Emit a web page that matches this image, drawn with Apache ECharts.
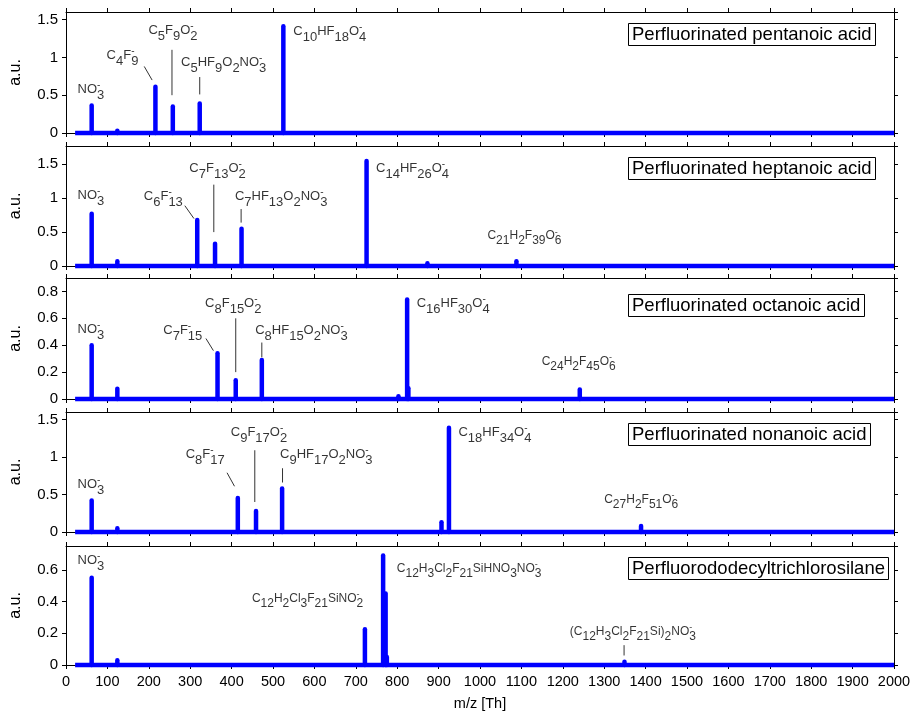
<!DOCTYPE html>
<html><head><meta charset="utf-8">
<script src="https://cdn.jsdelivr.net/npm/echarts@6/dist/echarts.min.js"></script>
<style>html,body{margin:0;padding:0;background:#fff}#c{width:914px;height:713px}</style>
</head><body><div id="c"></div>
<script>
// ---------- data ----------
const panelTitles = ['Perfluorinated pentanoic acid', 'Perfluorinated heptanoic acid',
  'Perfluorinated octanoic acid', 'Perfluorinated nonanoic acid', 'Perfluorododecyltrichlorosilane'];

const xRange = [0, 2000];
const xStep = 100;
const baselineMz = [22, 2000];

const yMaxes = [1.6, 1.77, 0.9, 1.6, 0.75];
const ySteps = [0.5, 0.5, 0.2, 0.5, 0.2];

const pentanoicMz = [62, 124, 216, 258, 323, 525];
const pentanoicAu = [0.365, 0.03, 0.61, 0.35, 0.39, 1.41];
const heptanoicMz = [62, 124, 317, 360, 424, 726, 873, 1088];
const heptanoicAu = [0.77, 0.07, 0.68, 0.33, 0.55, 1.55, 0.04, 0.07];
const octanoicMz = [62, 124, 366, 410, 473, 803, 824, 827, 1241];
const octanoicAu = [0.40, 0.077, 0.34, 0.14, 0.29, 0.02, 0.74, 0.08, 0.07];
const nonanoicMz = [62, 124, 415, 459, 522, 907, 925, 1389];
const nonanoicAu = [0.42, 0.05, 0.455, 0.28, 0.58, 0.13, 1.39, 0.08];
const silaneMz = [62, 124, 722, 766, 772, 775, 1349];
const silaneAu = [0.55, 0.03, 0.225, 0.69, 0.45, 0.05, 0.02];

// annotation texts: {..} = subscript, trailing '-' inside braces = stacked superscript minus
const pentanoicLabels = ['NO{3-}', 'C{4}F{9-}', 'C{5}F{9}O{2-}', 'C{5}HF{9}O{2}NO{3-}', 'C{10}HF{18}O{4-}'];
const heptanoicLabels = ['NO{3-}', 'C{6}F{13-}', 'C{7}F{13}O{2-}', 'C{7}HF{13}O{2}NO{3-}', 'C{14}HF{26}O{4-}', 'C{21}H{2}F{39}O{6-}'];
const octanoicLabels = ['NO{3-}', 'C{7}F{15-}', 'C{8}F{15}O{2-}', 'C{8}HF{15}O{2}NO{3-}', 'C{16}HF{30}O{4-}', 'C{24}H{2}F{45}O{6-}'];
const nonanoicLabels = ['NO{3-}', 'C{8}F{17-}', 'C{9}F{17}O{2-}', 'C{9}HF{17}O{2}NO{3-}', 'C{18}HF{34}O{4-}', 'C{27}H{2}F{51}O{6-}'];
const silaneLabels = ['NO{3-}', 'C{12}H{2}Cl{3}F{21}SiNO{2-}', 'C{12}H{3}Cl{2}F{21}SiHNO{3}NO{3-}', '(C{12}H{3}Cl{2}F{21}Si){2}NO{3-}'];

// ---------- layout (annotation anchors in data units, leader segments) ----------
const labelAnchors = [
  [[28,0.58],[98,1.03],[199,1.36],[278,0.93],[549,1.34]],
  [[28,1.04],[188,1.03],[298,1.44],[408,1.03],[749,1.44],[1018,0.44]],
  [[28,0.52],[235,0.51],[336,0.71],[457,0.51],[847,0.71],[1149,0.28]],
  [[28,0.64],[289,1.04],[398,1.33],[517,1.04],[948,1.33],[1300,0.43]],
  [[28,0.66],[449,0.42],[799,0.61],[1217,0.21]]
];
const labelSmall = [
  [], [5], [5], [5], [1,2,3]
];
const leaders = [
  [[189,0.88,208,0.70],[256,1.10,256,0.50],[323,0.74,323,0.51]],
  [[287,0.89,309,0.70],[357,1.20,357,0.50],[423,0.84,423,0.64]],
  [[338,0.45,356,0.36],[410,0.60,410,0.20],[473,0.42,473,0.31]],
  [[389,0.79,407,0.61],[456,1.09,456,0.40],[523,0.85,523,0.66]],
  [[1348,0.125,1348,0.06]]
];

const panels = [
  {mz: pentanoicMz, au: pentanoicAu, labels: pentanoicLabels},
  {mz: heptanoicMz, au: heptanoicAu, labels: heptanoicLabels},
  {mz: octanoicMz, au: octanoicAu, labels: octanoicLabels},
  {mz: nonanoicMz, au: nonanoicAu, labels: nonanoicLabels},
  {mz: silaneMz, au: silaneAu, labels: silaneLabels}
];

const FONT = '"Liberation Sans", Arial, sans-serif';
const BLUE = '#0000ff';
const tops = [12, 146, 278, 412, 546];
const heights = [121, 120, 121, 120, 119];
const titleTops = [23, 157, 294, 423, 557];

const measureCtx = document.createElement('canvas').getContext('2d');
function textW(t, size) {
  measureCtx.font = size + 'px ' + FONT;
  return measureCtx.measureText(t).width;
}

// parse a label into rich text (main + subscripts) and positions of stacked minus signs
function parseLabel(s, size) {
  let rich = '', x = 0;
  const sups = [];
  const re = /([^{}]+)|\{([^}]*)\}/g;
  let m;
  while ((m = re.exec(s))) {
    if (m[1]) { rich += '{m|' + m[1] + '}'; x += textW(m[1], size); }
    else {
      let t = m[2];
      if (t.endsWith('-')) { sups.push(x); t = t.slice(0, -1); }
      if (t) { rich += '{sub|' + t + '}'; x += textW(t, size); }
    }
  }
  return {rich, sups};
}
function richFor(size, off) {
  return {
    m: {fontSize: size, fontFamily: FONT, color: '#000', verticalAlign: 'top', align: 'left'},
    sub: {fontSize: size, fontFamily: FONT, color: '#000', verticalAlign: 'top', align: 'left', padding: [off, 0, 0, 0]}
  };
}

const axisCommon = {
  axisLine: {show: true, onZero: false, lineStyle: {color: '#000', width: 1}},
  axisTick: {show: true, inside: false, length: 4, lineStyle: {color: '#000', width: 1}},
  splitLine: {show: false}
};

const grid = [], xAxis = [], yAxis = [], series = [], title = [];
panels.forEach((p, i) => {
  grid.push({left: 66, right: 20, top: tops[i], height: heights[i]});
  const last = i === panels.length - 1;
  xAxis.push(Object.assign({}, axisCommon, {
    type: 'value', gridIndex: i, position: 'bottom', min: xRange[0], max: xRange[1], interval: xStep,
    axisLabel: {show: last, fontSize: 14.5, color: '#000', fontFamily: FONT, margin: 9, formatter: v => String(v)},
    name: last ? 'm/z [Th]' : '', nameLocation: 'middle', nameGap: 31,
    nameTextStyle: {fontSize: 14.5, color: '#000', fontFamily: FONT}
  }));
  xAxis.push(Object.assign({}, axisCommon, {
    type: 'value', gridIndex: i, position: 'top', min: xRange[0], max: xRange[1], interval: xStep,
    axisLabel: {show: false}
  }));
  yAxis.push(Object.assign({}, axisCommon, {
    type: 'value', gridIndex: i, position: 'left', min: 0, max: yMaxes[i], interval: ySteps[i],
    axisLabel: {show: true, showMaxLabel: false, fontSize: 15, color: '#000', fontFamily: FONT, margin: 8,
      formatter: v => String(Math.round(v * 100) / 100)},
    name: 'a.u.', nameLocation: 'middle', nameGap: 42, nameRotate: 90,
    nameTextStyle: {fontSize: 16, color: '#000', fontFamily: FONT}
  }));
  yAxis.push(Object.assign({}, axisCommon, {
    type: 'value', gridIndex: i, position: 'right', min: 0, max: yMaxes[i], interval: ySteps[i],
    axisLabel: {show: false}
  }));
  const xi = 2 * i, yi = 2 * i;
  series.push({
    type: 'line', xAxisIndex: xi, yAxisIndex: yi, silent: true, clip: false, symbol: 'none',
    data: baselineMz.map(v => [v, 0]), lineStyle: {color: BLUE, width: 4.5}, z: 2
  });
  series.push({
    type: 'custom', xAxisIndex: xi, yAxisIndex: yi, silent: true, z: 3,
    data: p.mz.map((m, k) => [m, p.au[k]]),
    renderItem: (params, api) => {
      const a = api.coord([api.value(0), 0]);
      const b = api.coord([api.value(0), api.value(1)]);
      return {type: 'line', shape: {x1: a[0], y1: a[1], x2: b[0], y2: b[1]},
        style: {stroke: BLUE, lineWidth: 4.5, lineCap: 'round'}};
    }
  });
  series.push({
    type: 'custom', xAxisIndex: xi, yAxisIndex: yi, silent: true, z: 4,
    data: leaders[i],
    encode: {x: [0, 2], y: [1, 3]},
    renderItem: (params, api) => {
      const a = api.coord([api.value(0), api.value(1)]);
      const b = api.coord([api.value(2), api.value(3)]);
      return {type: 'line', shape: {x1: a[0], y1: a[1], x2: b[0], y2: b[1]},
        style: {stroke: '#333', lineWidth: 1}};
    }
  });
  const labelItems = [];
  p.labels.forEach((t, k) => {
    const small = labelSmall[i].indexOf(k) >= 0;
    const size = small ? 12 : 13;
    const off = small ? 5 : 6;
    const parsed = parseLabel(t, size);
    labelItems.push({
      value: labelAnchors[i][k],
      label: {show: true, position: 'right', distance: 0, offset: [0, off / 2],
        formatter: parsed.rich, rich: richFor(size, off)}
    });
    parsed.sups.forEach(sx => {
      labelItems.push({
        value: labelAnchors[i][k],
        label: {show: true, position: 'right', distance: 0, offset: [sx, -size * 0.32],
          formatter: '-', fontSize: Math.round(size * 0.75), fontFamily: FONT, color: '#000'}
      });
    });
  });
  series.push({
    type: 'scatter', xAxisIndex: xi, yAxisIndex: yi, silent: true, symbolSize: 0, z: 5,
    data: labelItems
  });
  title.push({
    text: panelTitles[i], left: 628, top: titleTops[i], padding: [2, 4],
    borderColor: '#000', borderWidth: 1, backgroundColor: '#fff',
    textStyle: {fontSize: 18.5, fontWeight: 'normal', color: '#000', fontFamily: FONT}
  });
});

const chart = echarts.init(document.getElementById('c'), null, {renderer: 'canvas'});
chart.setOption({animation: false, backgroundColor: '#fff', title, grid, xAxis, yAxis, series});
</script></body></html>
